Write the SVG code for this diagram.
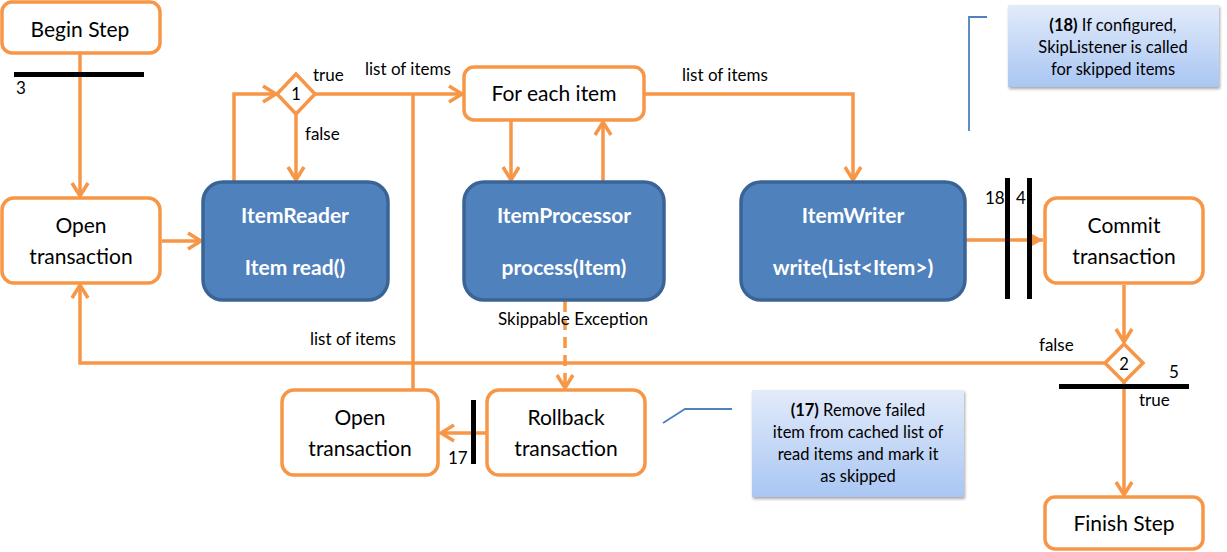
<svg xmlns="http://www.w3.org/2000/svg" width="1227" height="552" viewBox="0 0 1227 552">
<style>
.node{fill:#fff;stroke:#F79646;stroke-width:3.5}
.blue{fill:#4F81BD;stroke:#3B6496;stroke-width:3.5}
.t{font-family:Lato,"Liberation Sans",sans-serif;font-size:21px;fill:#000;text-anchor:middle}
.bt{font-family:Lato,"Liberation Sans",sans-serif;font-size:21px;font-weight:bold;fill:#fff;text-anchor:middle}
.l{font-family:Lato,"Liberation Sans",sans-serif;font-size:17px;fill:#000}
.c{font-family:Lato,"Liberation Sans",sans-serif;font-size:16.5px;fill:#000;text-anchor:middle}
.w{fill:none;stroke:#F79646;stroke-width:3.5}
.bar{fill:#000}
.call{fill:url(#g);filter:url(#sh)}
.cl{fill:none;stroke:#4F81BD;stroke-width:1.8}
</style>
<defs>
<marker id="a" markerUnits="userSpaceOnUse" markerWidth="20" markerHeight="20" refX="15" refY="10" orient="auto">
<path d="M2,2 L15,10 L2,18" fill="none" stroke="#F79646" stroke-width="3.5"/>
</marker>
<marker id="f" markerUnits="userSpaceOnUse" markerWidth="16" markerHeight="16" refX="13" refY="8" orient="auto">
<path d="M0,1 L13,8 L0,15 z" fill="#F79646"/>
</marker>
<linearGradient id="g" x1="0" y1="0" x2="0" y2="1">
<stop offset="0" stop-color="#E2EBFA"/>
<stop offset="1" stop-color="#A9C6F3"/>
</linearGradient>
<filter id="sh" x="-10%" y="-10%" width="125%" height="130%">
<feGaussianBlur in="SourceAlpha" stdDeviation="1.5"/>
<feOffset dx="1" dy="2" result="o"/>
<feComponentTransfer><feFuncA type="linear" slope="0.35"/></feComponentTransfer>
<feMerge><feMergeNode/><feMergeNode in="SourceGraphic"/></feMerge>
</filter>
</defs>

<g id="connectors">
<path class="w" d="M80,54 V196" marker-end="url(#a)"/>
<path class="w" d="M162,241 H201" marker-end="url(#a)"/>
<path class="w" d="M234,181 V94 H276" marker-end="url(#a)"/>
<path class="w" d="M296,114 V180" marker-end="url(#a)"/>
<path class="w" d="M315,94 H462" marker-end="url(#a)"/>
<path class="w" d="M413,390 V94"/>
<path class="w" d="M511,121 V180" marker-end="url(#a)"/>
<path class="w" d="M603,181 V122" marker-end="url(#a)"/>
<path class="w" d="M645,94 H853 V180" marker-end="url(#a)"/>
<path class="w" d="M966,240 H1043" marker-end="url(#f)"/>
<path class="w" d="M1124,285 V342" marker-end="url(#a)"/>
<path class="w" d="M1106,363 H80 V285" marker-end="url(#a)"/>
<path class="w" d="M1124,383 V495" marker-end="url(#a)"/>
<path class="w" d="M565,301 V388" stroke-dasharray="11,7" marker-end="url(#a)"/>
<path class="w" d="M486,433 H441" marker-end="url(#a)"/>
<rect class="bar" x="14" y="72" width="130" height="5"/>
<rect class="bar" x="1005" y="178" width="5" height="121"/>
<rect class="bar" x="1027" y="178" width="5" height="121"/>
<rect class="bar" x="1059" y="384" width="130" height="5"/>
<rect class="bar" x="471" y="400" width="5" height="64"/>
<text class="l" x="16" y="94">3</text>
<text class="l" x="313" y="81">true</text>
<text class="l" x="305" y="140">false</text>
<text class="l" x="365" y="75">list of items</text>
<text class="l" x="682" y="81">list of items</text>
<text class="l" x="985" y="204">18</text>
<text class="l" x="1016" y="204">4</text>
<text class="l" x="1039" y="351">false</text>
<text class="l" x="1169" y="378">5</text>
<text class="l" x="1139" y="406">true</text>
<text class="l" x="310" y="345">list of items</text>
<text class="l" x="498" y="325">Skippable Exception</text>
<text class="l" x="448" y="464">17</text>
</g>

<g id="begin-step">
<rect class="node" x="2" y="2" width="158" height="51" rx="10"/>
<text class="t" x="80" y="37">Begin Step</text>
</g>
<g id="open-transaction-1">
<rect class="node" x="2" y="198" width="158" height="85" rx="12"/>
<text class="t" x="81" y="233">Open</text>
<text class="t" x="81" y="264">transaction</text>
</g>
<g id="item-reader">
<rect class="blue" x="203" y="182" width="185" height="118" rx="20"/>
<text class="bt" x="295" y="223">ItemReader</text>
<text class="bt" x="295" y="275">Item read()</text>
</g>
<g id="decision-1">
<path d="M296,74 L315,94 L296,114 L277,94 z" fill="#fff" stroke="#F79646" stroke-width="3.5"/>
<text class="c" x="296" y="100">1</text>
</g>
<g id="for-each-item">
<rect class="node" x="464" y="67" width="180" height="53" rx="10"/>
<text class="t" x="554" y="101">For each item</text>
</g>
<g id="item-processor">
<rect class="blue" x="464" y="182" width="200" height="118" rx="20"/>
<text class="bt" x="564" y="223">ItemProcessor</text>
<text class="bt" x="564" y="275">process(Item)</text>
</g>
<g id="item-writer">
<rect class="blue" x="741" y="182" width="224" height="118" rx="20"/>
<text class="bt" x="853" y="223">ItemWriter</text>
<text class="bt" x="853" y="275">write(List&lt;Item&gt;)</text>
</g>
<g id="commit-transaction">
<rect class="node" x="1045" y="198" width="158" height="85" rx="12"/>
<text class="t" x="1124" y="233">Commit</text>
<text class="t" x="1124" y="264">transaction</text>
</g>
<g id="decision-2">
<path d="M1124,344 L1143,363 L1124,382 L1105,363 z" fill="#fff" stroke="#F79646" stroke-width="3.5"/>
<text class="c" x="1124" y="370">2</text>
</g>
<g id="finish-step">
<rect class="node" x="1045" y="497" width="158" height="52" rx="10"/>
<text class="t" x="1124" y="531">Finish Step</text>
</g>
<g id="rollback-transaction">
<rect class="node" x="487" y="390" width="158" height="85" rx="12"/>
<text class="t" x="566" y="425">Rollback</text>
<text class="t" x="566" y="456">transaction</text>
</g>
<g id="open-transaction-2">
<rect class="node" x="282" y="390" width="156" height="85" rx="12"/>
<text class="t" x="360" y="425">Open</text>
<text class="t" x="360" y="456">transaction</text>
</g>
<g id="note-17">
<path class="cl" d="M663,423 L685,409 H732"/>
<rect class="call" x="752" y="390" width="212" height="107"/>
<text class="c" x="858" y="416"><tspan font-weight="bold">(17)</tspan> Remove failed</text>
<text class="c" x="858" y="438">item from cached list of</text>
<text class="c" x="858" y="460">read items and mark it</text>
<text class="c" x="858" y="482">as skipped</text>
</g>
<g id="note-18">
<path class="cl" d="M969,131 V17 H987"/>
<rect class="call" x="1008" y="5" width="211" height="82"/>
<text class="c" x="1113" y="31"><tspan font-weight="bold">(18)</tspan> If configured,</text>
<text class="c" x="1113" y="53">SkipListener is called</text>
<text class="c" x="1113" y="75">for skipped items</text>
</g>
</svg>
